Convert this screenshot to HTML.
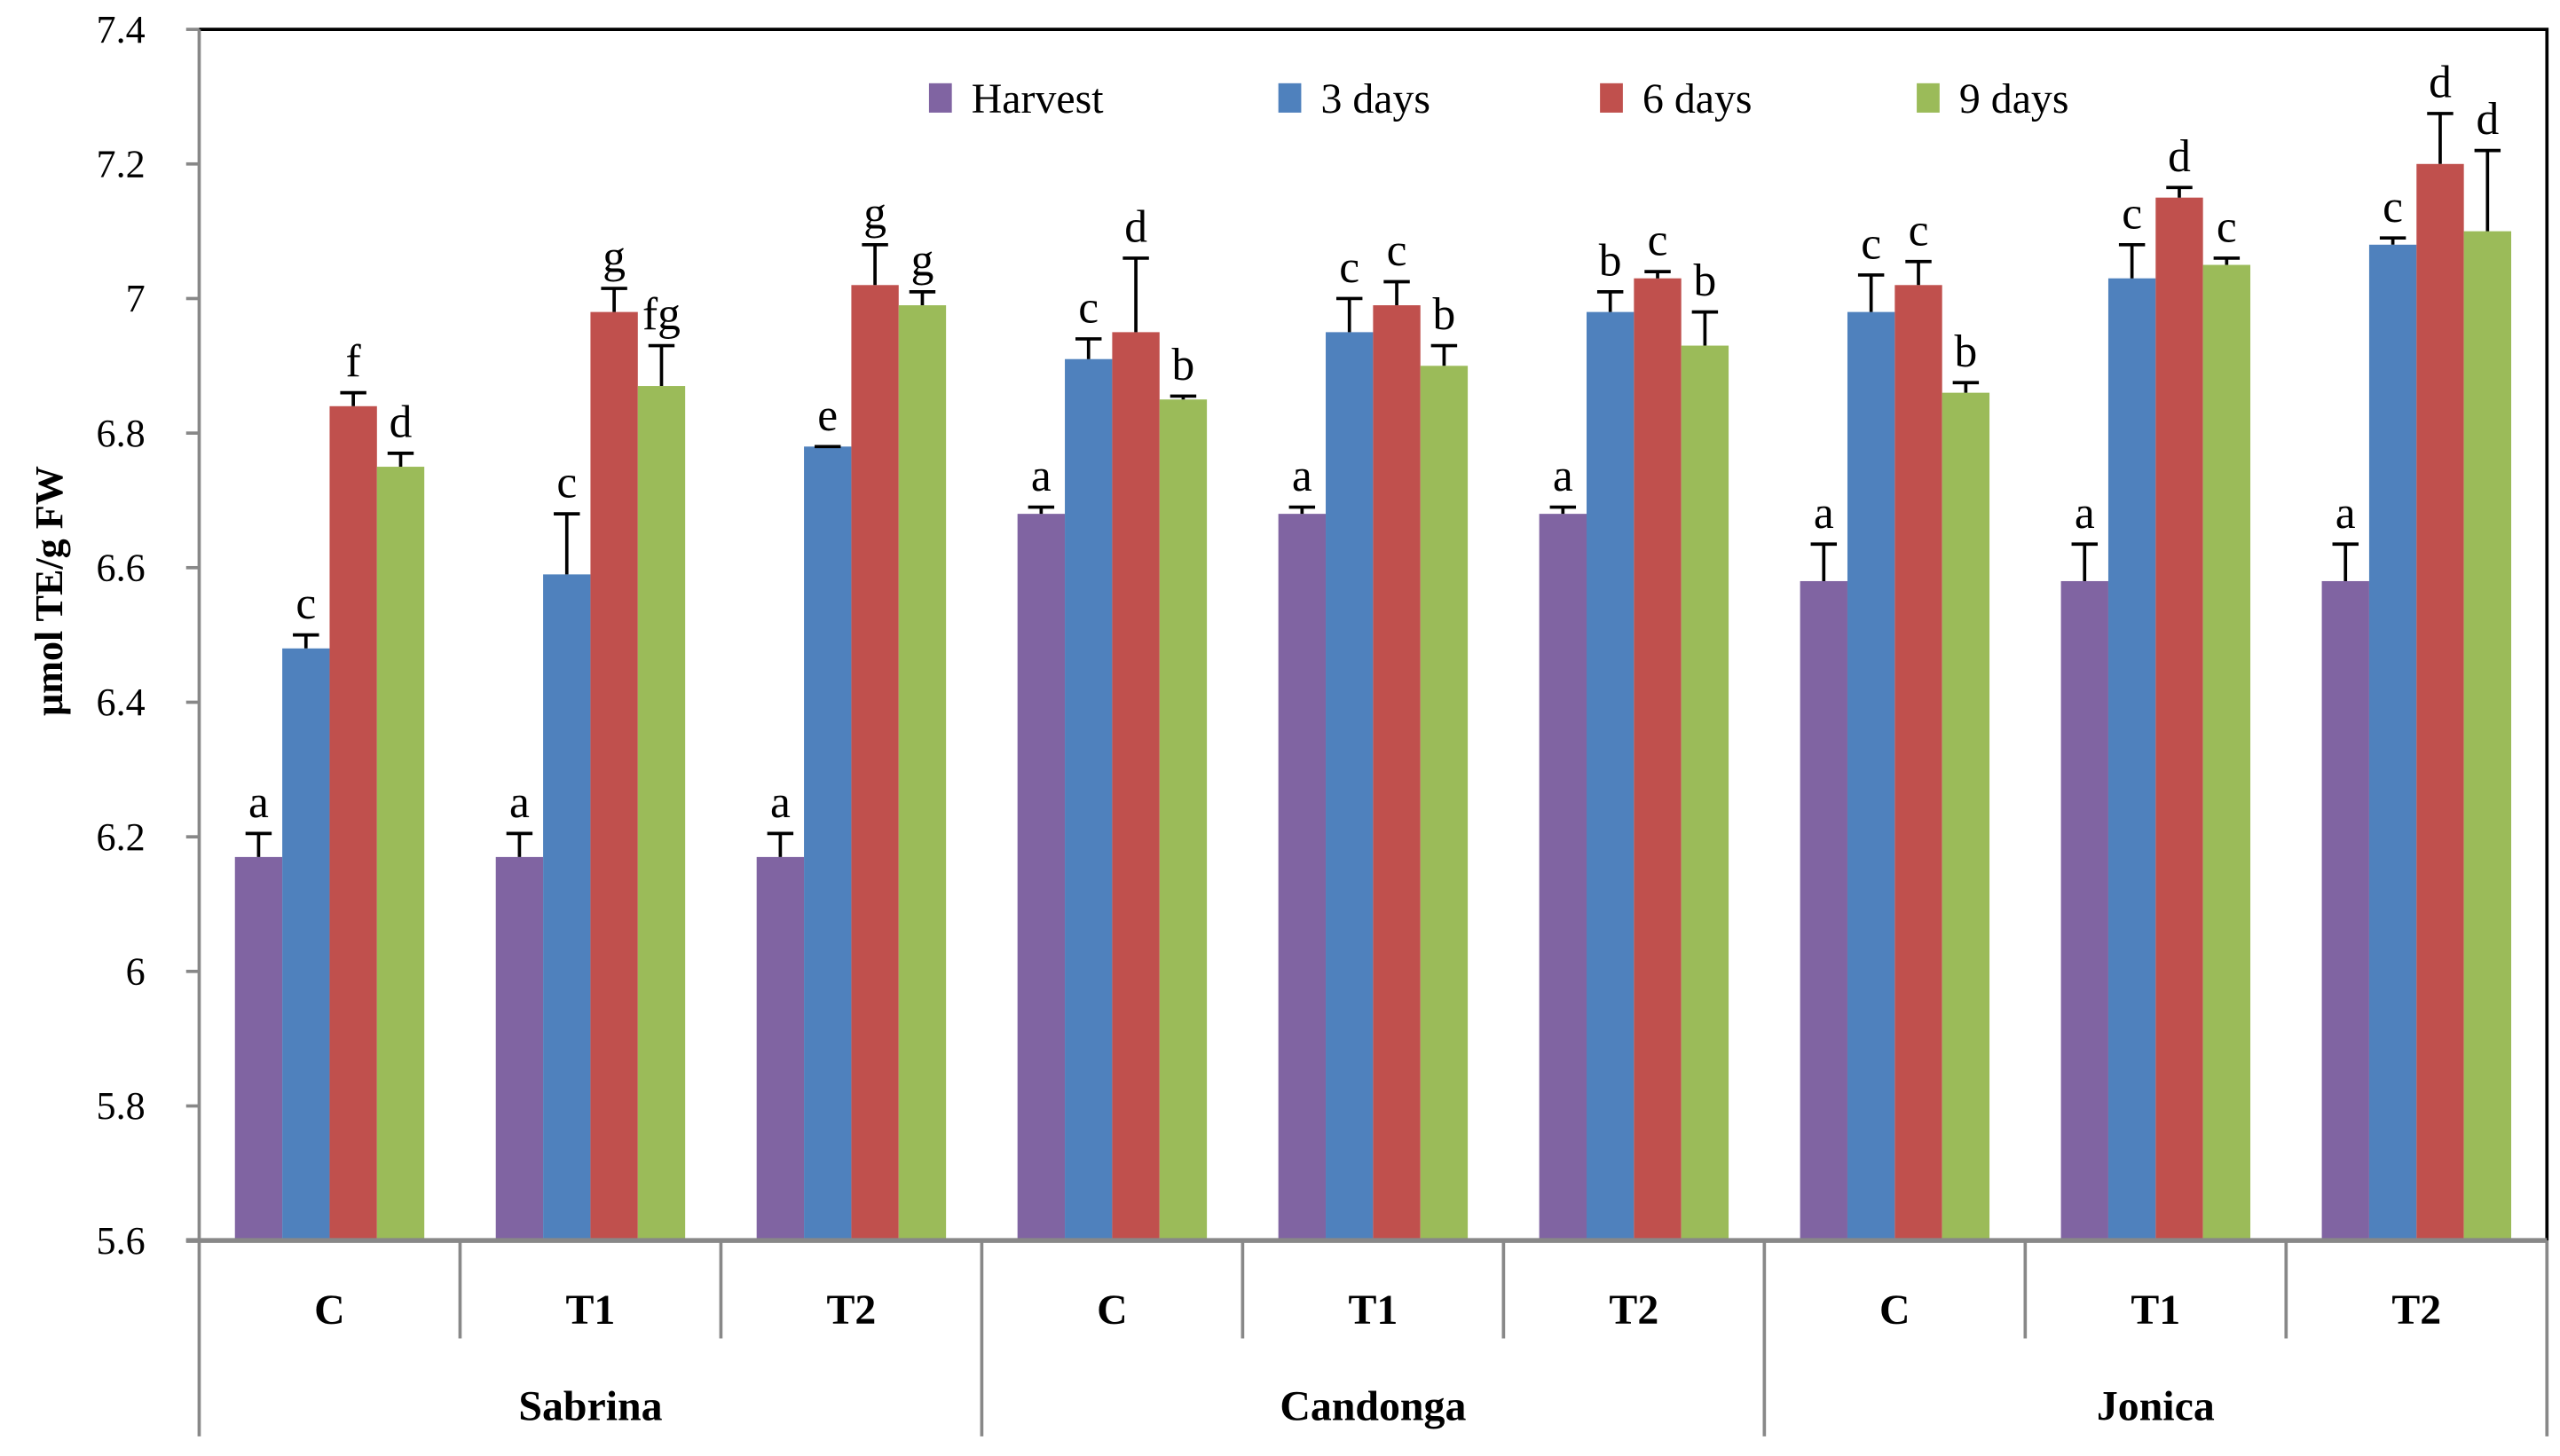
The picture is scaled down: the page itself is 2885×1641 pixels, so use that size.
<!DOCTYPE html>
<html><head><meta charset="utf-8"><style>
html,body{margin:0;padding:0;background:#fff;}
svg{display:block;}
svg text{font-family:"Liberation Serif",serif;fill:#000;}
</style></head><body>
<svg id="chart" width="2885" height="1641" viewBox="0 0 1568 892" preserveAspectRatio="none" xmlns="http://www.w3.org/2000/svg"></svg>
<script>
const varieties = ["Sabrina","Candonga","Jonica"];
const treatments = ["C","T1","T2"];
const seriesNames = ["Harvest","3 days","6 days","9 days"];
const seriesColors = ["#8064a2","#4f81bd","#c0504d","#9bbb59"];
const harvest = [6.17,6.17,6.17,6.68,6.68,6.68,6.58,6.58,6.58];
const days3 = [6.48,6.59,6.78,6.91,6.95,6.98,6.98,7.03,7.08];
const days6 = [6.84,6.98,7.02,6.95,6.99,7.03,7.02,7.15,7.20];
const days9 = [6.75,6.87,6.99,6.85,6.90,6.93,6.86,7.05,7.10];
const errHarvest = [0.035,0.035,0.035,0.01,0.01,0.01,0.055,0.055,0.055];
const err3 = [0.02,0.09,0.0,0.03,0.05,0.03,0.055,0.05,0.01];
const err6 = [0.02,0.035,0.06,0.11,0.035,0.01,0.035,0.015,0.075];
const err9 = [0.02,0.06,0.02,0.005,0.03,0.05,0.015,0.01,0.12];
const lettersHarvest = ["a","a","a","a","a","a","a","a","a"];
const letters3 = ["c","c","e","c","c","b","c","c","c"];
const letters6 = ["f","g","g","d","c","c","c","d","d"];
const letters9 = ["d","fg","g","b","b","b","b","c","d"];
const yTicks = ["5.6","5.8","6","6.2","6.4","6.6","6.8","7","7.2","7.4"];

const NS="http://www.w3.org/2000/svg";
const FF='"Liberation Serif", serif';
const svg=document.getElementById('chart');
function mk(tag,attrs,parent){const e=document.createElementNS(NS,tag);for(const k in attrs)e.setAttribute(k,attrs[k]);if(tag==='text')e.setAttribute('font-family',FF);(parent||svg).appendChild(e);return e;}
const L=122,R=1560,T=18,B=760,yMin=5.6,yMax=7.4;
const y=v=>B-(v-yMin)/(yMax-yMin)*(B-T);
const nG=treatments.length*varieties.length;
const gw=(R-L)/nG;
const gx=i=>L+gw*(i+0.5);
const bw=29;

let e=mk('path',{d:`M${L} ${T} H${R} V${B}`,stroke:'#000','stroke-width':2,fill:'none'});



yTicks.forEach(t=>{
  const yy=y(parseFloat(t));
  let tk=mk('line',{x1:L-8,x2:L,y1:yy,y2:yy,stroke:'#888','stroke-width':2});
  
  
  let tx=mk('text',{x:L-33,y:yy+8,'text-anchor':'end','font-size':24});
  tx.textContent=t;
  
  
});

const allVals=[harvest,days3,days6,days9];
const allErr=[errHarvest,err3,err6,err9];
const allLet=[lettersHarvest,letters3,letters6,letters9];
for(let g=0;g<nG;g++){
  for(let s=0;s<4;s++){
    const v=allVals[s][g];
    const x0=gx(g)-2*bw+s*bw;
    let r=mk('rect',{x:x0,y:y(v),width:bw,height:B-y(v),fill:seriesColors[s]});
    
    
    const cx=x0+bw/2, top=y(v+allErr[s][g]);
    let eb=mk('path',{d:`M${cx} ${y(v)} V${top} M${cx-8} ${top} H${cx+8}`,stroke:'#000','stroke-width':2,fill:'none'});
    
    
    let lt=mk('text',{x:cx,y:top-10,'text-anchor':'middle','font-size':28});
    lt.textContent=allLet[s][g];
    
    
  }
}

e=mk('line',{x1:L,x2:L,y1:T,y2:880,stroke:'#888','stroke-width':2});


e=mk('line',{x1:L-8,x2:R,y1:B,y2:B,stroke:'#888','stroke-width':3});


for(let g=1;g<=nG;g++){
  const xx=L+gw*g;
  const major=g%treatments.length===0;
  let d=mk('line',{x1:xx,x2:xx,y1:B,y2:major?880:820,stroke:'#888','stroke-width':2});
  
  
}
for(let g=0;g<nG;g++){
  let t=mk('text',{x:gx(g),y:811,'text-anchor':'middle','font-size':26,'font-weight':'bold'});
  t.textContent=treatments[g%treatments.length];
  
  
}
varieties.forEach((v,i)=>{
  let t=mk('text',{x:L+gw*treatments.length*(i+0.5),y:870,'text-anchor':'middle','font-size':26,'font-weight':'bold'});
  t.textContent=v;
  
  
});

e=mk('text',{x:0,y:0,'text-anchor':'middle','font-size':24,'font-weight':'bold',transform:'translate(38,362) rotate(-90)'});
e.textContent='μmol TE/g  FW';



const legX=[569,783,980,1174];
seriesNames.forEach((n,i)=>{
  let r=mk('rect',{x:legX[i],y:51,width:14,height:18,fill:seriesColors[i]});
  
  
  let t=mk('text',{x:legX[i]+26,y:69,'font-size':26});
  t.textContent=n;
  
  
});
</script>
</body></html>
